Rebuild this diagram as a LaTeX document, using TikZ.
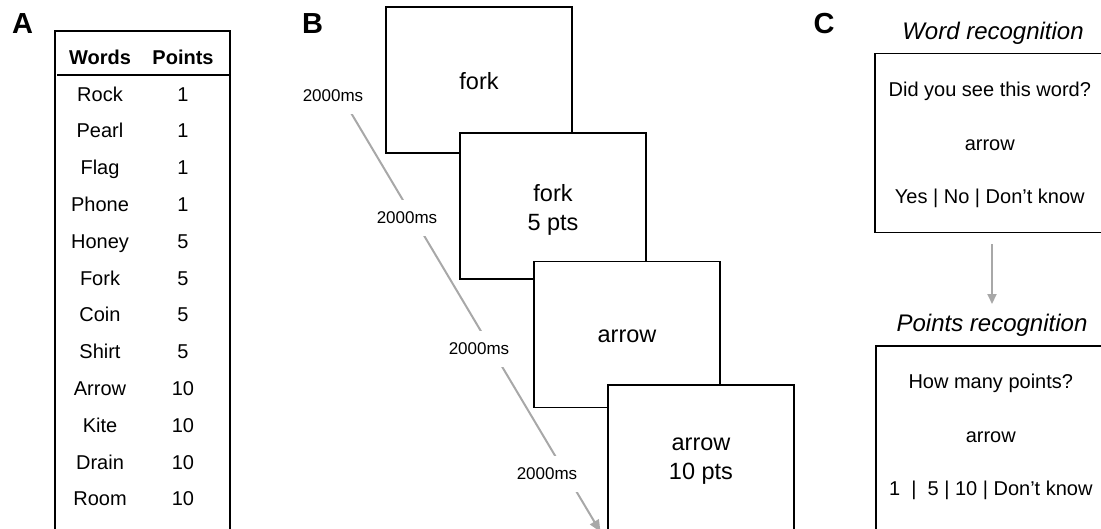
\documentclass[tikz,border=0pt]{standalone}
\usepackage{fontspec}
\setmainfont{Liberation Sans}
\usetikzlibrary{arrows.meta}
\definecolor{linegray}{RGB}{168,168,168}

\tikzset{
  panel/.style={font=\fontsize{29}{32}\selectfont\bfseries, anchor=base, inner sep=0pt},
  cell/.style={font=\fontsize{20}{24}\selectfont, anchor=base, inner sep=0pt},
  headcell/.style={cell, font=\fontsize{20}{24}\selectfont\bfseries},
  frame/.style={draw=black, line width=2pt, inner sep=0pt},
  screen/.style={draw=black, line width=1.6pt, fill=white, inner sep=0pt,
    minimum width=186pt, minimum height=146pt},
  screentext/.style={align=center, inner sep=0pt, font=\fontsize{23.5}{29}\selectfont},
  timing/.style={fill=white, inner xsep=1pt, inner ysep=11.5pt,
    font=\fontsize{17}{20}\selectfont},
  flow/.style={draw=linegray, line width=2pt},
  qbox/.style={draw=black, line width=1.6pt, inner sep=0pt, minimum width=230pt},
  qtext/.style={align=center, inner sep=0pt, font=\fontsize{20}{53.5}\selectfont},
  qtitle/.style={font=\fontsize{24}{28}\selectfont\itshape, inner sep=0pt}
}

\begin{document}
\begin{tikzpicture}[x=1pt, y=-1pt]
\useasboundingbox (0,0) rectangle (1101,528);

% panel letters
\node[panel] (lblA) at (22.5,33.3) {A};
\node[panel] (lblB) at (312.5,33.3) {B};
\node[panel] (lblC) at (824,33.3) {C};

% ---- A: word / points table ----
\node[frame, anchor=north west, minimum width=175pt, minimum height=520pt] (tbl) at (54,30) {};
\draw[line width=2pt] ([xshift=3pt,yshift=-45pt]tbl.north west) -- ([yshift=-45pt]tbl.north east);
\node[headcell] (hWords) at (100,64.2) {Words};
\node[headcell] (hPoints) at (183,64.2) {Points};
\foreach \w/\p [count=\i] in {Rock/1,Pearl/1,Flag/1,Phone/1,Honey/5,Fork/5,Coin/5,Shirt/5,Arrow/10,Kite/10,Drain/10,Room/10}{
  \node[cell] (w\i) at (100,{64.2+36.8*\i}) {\w};
  \node[cell] (p\i) at (183,{64.2+36.8*\i}) {\p};
}

% ---- B: trial sequence ----
\coordinate (tstart) at (349.3,110);
\coordinate (tend) at (600.5,532);
\draw[flow, -{Triangle[length=12pt,width=10pt]}] (tstart) -- (tend);
\node[timing] (t1) at (333,96) {2000ms};
\node[timing] (t2) at (407,218) {2000ms};
\node[timing] (t3) at (479,349) {2000ms};
\node[timing] (t4) at (547,474) {2000ms};

\node[screen] (s1) at (479,80) {};
\node[screentext] (s1t) at ([yshift=-1pt]s1.center) {fork};
\node[screen] (s2) at (553,206) {};
\node[screentext] (s2t) at ([yshift=-3.5pt]s2.center) {fork\\5 pts};
\node[screen] (s3) at (627,334.5) {};
\node[screentext] (s3t) at ([yshift=-2pt]s3.center) {arrow};
\node[screen] (s4) at (701,458) {};
\node[screentext] (s4t) at ([yshift=-3.5pt]s4.center) {arrow\\10 pts};

% ---- C: recognition tests ----
\node[qtitle] (ctitle1) at (993,33) {Word recognition};
\node[qbox, anchor=north west, minimum height=179pt] (cbox1) at (874,52.7) {};
\node[qtext] (ctext1) at ([yshift=-92.3pt]cbox1.north) {Did you see this word?\\arrow\\Yes | No | Don’t know};

\coordinate (cflowA) at (992,244);
\coordinate (cflowB) at (992,304);
\draw[flow, -{Triangle[length=10pt,width=9pt]}] (cflowA) -- (cflowB);

\node[qtitle] (ctitle2) at (992,325) {Points recognition};
\node[qbox, anchor=north west, minimum height=200pt] (cbox2) at (875,345) {};
\node[qtext] (ctext2) at ([yshift=-92.3pt]cbox2.north) {How many points?\\arrow\\1\ \ |\ \ 5 | 10 | Don’t know};
\end{tikzpicture}
\end{document}
